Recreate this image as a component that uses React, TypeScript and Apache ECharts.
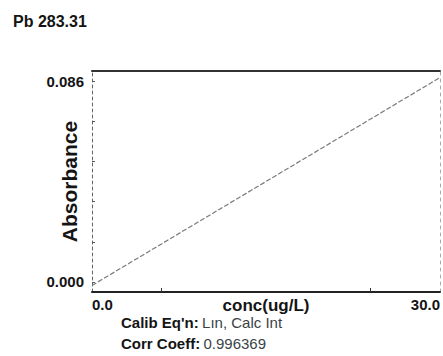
import React, { useEffect, useRef } from "react";
import * as echarts from "echarts";

const titleText = "Pb 283.31";
const xRange = [0, 30];
const yRange = [-0.0043, 0.0903];
const xLabelValues = [0, 30];
const xTickValues = [6, 24];
const yLabelValues = [0, 0.086];
const yTickValues = [0, 0.0172, 0.0344, 0.0516, 0.0688, 0.086];
const fitLine: [number, number][] = [
  [0, -0.0015],
  [30, 0.0875],
];
const calibLabel = "Calib Eq'n:";
const calibValue = "Lın, Calc Int";
const corrLabel = "Corr Coeff:";
const corrValue = "0.996369";

const FONT = "'Liberation Sans', Arial, sans-serif";

export default function App() {
  const ref = useRef<HTMLDivElement>(null);
  useEffect(() => {
    if (!ref.current) return;
    const chart = echarts.init(ref.current, null, { renderer: "svg" });
    chart.setOption({
      animation: false,
      backgroundColor: "#ffffff",
      textStyle: { fontFamily: FONT },
      title: {
        text: titleText,
        left: 8,
        top: 8,
        textStyle: { fontSize: 16, fontWeight: "bold", color: "#141414", fontFamily: FONT },
      },
      grid: { left: 92, right: 3, top: 71, bottom: 64 },
      xAxis: [
        {
          type: "value",
          min: xRange[0],
          max: xRange[1],
          name: "conc(ug/L)",
          nameLocation: "middle",
          nameGap: 5,
          nameMoveOverlap: false,
          nameTextStyle: {
            fontSize: 17,
            fontWeight: "bold",
            color: "#141414",
            fontFamily: FONT,
            verticalAlign: "top",
          },
          axisLine: { show: true, onZero: false, lineStyle: { color: "#222", width: 2 } },
          axisTick: { show: true, inside: true, length: 4, customValues: xTickValues, lineStyle: { color: "#333" } },
          axisLabel: {
            customValues: xLabelValues,
            formatter: (v: number) => v.toFixed(1),
            fontSize: 15,
            fontWeight: "bold",
            color: "#141414",
            margin: 5,
            alignMinLabel: "left",
            alignMaxLabel: "right",
            fontFamily: FONT,
          },
          splitLine: { show: false },
        },
        {
          type: "value",
          position: "top",
          min: xRange[0],
          max: xRange[1],
          axisLine: { show: true, onZero: false, lineStyle: { color: "#333", width: 2 } },
          axisTick: { show: false },
          axisLabel: { show: false },
          splitLine: { show: false },
        },
      ],
      yAxis: [
        {
          type: "value",
          min: yRange[0],
          max: yRange[1],
          name: "Absorbance",
          nameLocation: "middle",
          nameRotate: 90,
          nameGap: 12,
          nameMoveOverlap: false,
          nameTextStyle: { fontSize: 21, fontWeight: "bold", color: "#141414", fontFamily: FONT },
          axisLine: { show: true, onZero: false, lineStyle: { color: "#666", width: 1, type: [3, 3] } },
          axisTick: { show: true, inside: true, length: 3, customValues: yTickValues, lineStyle: { color: "#555" } },
          axisLabel: {
            customValues: yLabelValues,
            formatter: (v: number) => v.toFixed(3),
            fontSize: 15,
            fontWeight: "bold",
            color: "#141414",
            margin: 8,
            fontFamily: FONT,
          },
          splitLine: { show: false },
        },
        {
          type: "value",
          position: "right",
          min: yRange[0],
          max: yRange[1],
          axisLine: { show: true, onZero: false, lineStyle: { color: "#aaa", width: 1, type: [3, 4] } },
          axisTick: { show: false },
          axisLabel: { show: false },
          splitLine: { show: false },
        },
      ],
      series: [
        {
          type: "line",
          data: fitLine,
          xAxisIndex: 0,
          yAxisIndex: 0,
          symbol: "none",
          lineStyle: { color: "#7a7a7a", width: 1.2, type: [5, 2] },
        },
      ],
      graphic: [
        {
          type: "text",
          left: 121,
          top: 315,
          style: {
            text: `{a|${calibLabel}} {b|${calibValue}}`,
            rich: {
              a: { fontSize: 15, fontWeight: "bold", fill: "#141414", fontFamily: FONT },
              b: { fontSize: 15, fontWeight: "normal", fill: "#3a3f44", fontFamily: FONT },
            },
          },
        },
        {
          type: "text",
          left: 121,
          top: 336,
          style: {
            text: `{a|${corrLabel}} {b|${corrValue}}`,
            rich: {
              a: { fontSize: 15, fontWeight: "bold", fill: "#141414", fontFamily: FONT },
              b: { fontSize: 15, fontWeight: "normal", fill: "#3a4448", fontFamily: FONT },
            },
          },
        },
      ],
    });
    return () => chart.dispose();
  }, []);
  return (
    <div
      ref={ref}
      style={{ position: "absolute", left: 0, top: 0, width: 443, height: 356 }}
    />
  );
}
